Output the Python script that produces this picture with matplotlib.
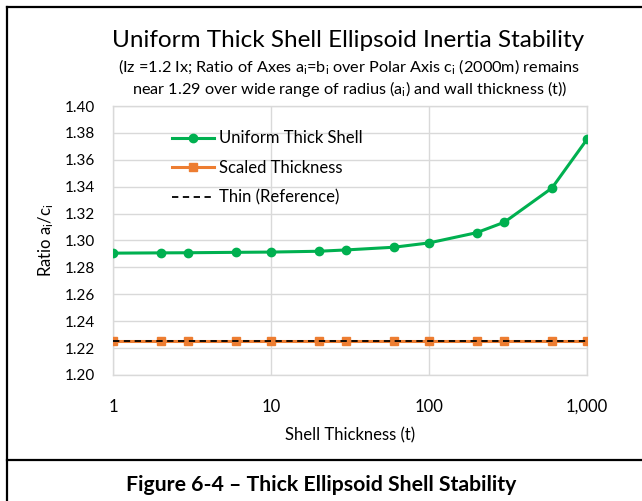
import matplotlib
matplotlib.use("Agg")
import matplotlib.pyplot as plt
from matplotlib.lines import Line2D
from matplotlib.ticker import FixedLocator, FuncFormatter, NullLocator

plt.rcParams['font.family'] = ['Lato', 'DejaVu Sans']
plt.rcParams['mathtext.default'] = 'regular'

# Data
thickness = [1, 2, 3, 6, 10, 20, 30, 60, 100, 200, 300, 600, 1000]
uniform_thick = [1.2906, 1.2908, 1.2909, 1.2912, 1.2914, 1.2920, 1.2930,
                 1.2950, 1.2982, 1.3058, 1.3136, 1.3390, 1.3752]
scaled_thickness = [1.225] * len(thickness)
thin_reference = [1.225] * len(thickness)
series_names = ["Uniform Thick Shell", "Scaled Thickness", "Thin (Reference)"]
y_ticks = [1.20, 1.22, 1.24, 1.26, 1.28, 1.30, 1.32, 1.34, 1.36, 1.38, 1.40]
x_ticks = [1, 10, 100, 1000]

W, H = 642, 501
fig = plt.figure(figsize=(W / 100, H / 100), dpi=100)

def fx(px):
    return px / W

def fy(py):
    return 1 - py / H

ax = fig.add_axes([fx(113), fy(375), fx(587) - fx(113), fy(106) - fy(375)])

green = '#00B050'
orange = '#ED7D31'
grid_c = '#D9D9D9'

ax.plot(thickness, uniform_thick, color=green, lw=2.2, marker='o', ms=6,
        label=series_names[0], zorder=4)
ax.plot(thickness, scaled_thickness, color=orange, lw=2.2, marker='s', ms=6,
        label=series_names[1], zorder=3)
ax.plot(thickness, thin_reference, color='black', lw=1.3, ls=(0, (3.5, 2.5)),
        label=series_names[2], zorder=5)

ax.set_xscale('log')
ax.set_xlim(1, 1000)
ax.set_ylim(1.20, 1.40)
ax.xaxis.set_major_locator(FixedLocator(x_ticks))
ax.xaxis.set_minor_locator(NullLocator())
ax.xaxis.set_major_formatter(FuncFormatter(lambda v, p: f"{int(round(v)):,}"))
ax.yaxis.set_major_locator(FixedLocator(y_ticks))
ax.yaxis.set_major_formatter(FuncFormatter(lambda v, p: f"{v:.2f}"))

ax.grid(True, color=grid_c, lw=1.0)
ax.set_axisbelow(True)
for s in ax.spines.values():
    s.set_color(grid_c)
    s.set_linewidth(1.0)
ax.tick_params(axis='both', length=0, colors='#000000')
ax.tick_params(axis='y', labelsize=11, pad=13)
ax.tick_params(axis='x', labelsize=12, pad=17)

ax.set_xlabel("Shell Thickness (t)", fontsize=12, labelpad=9)
ax.set_ylabel("Ratio $a_i/c_i$", fontsize=12, labelpad=6)

leg = ax.legend(loc='upper left', bbox_to_anchor=(0.093, 0.965), frameon=False,
                fontsize=12, handlelength=2.5, handletextpad=0.3,
                labelspacing=0.82)

fig.text(fx(348), fy(41), "Uniform Thick Shell Ellipsoid Inertia Stability",
         ha='center', va='center', fontsize=17.5)
fig.text(fx(349), fy(67),
         "(Iz =1.2 Ix; Ratio of Axes $a_i$=$b_i$ over Polar Axis $c_i$ (2000m) remains",
         ha='center', va='center', fontsize=11.7)
fig.text(fx(350), fy(89),
         "near 1.29 over wide range of radius ($a_i$) and wall thickness (t))",
         ha='center', va='center', fontsize=11.7)

fig.text(fx(321), fy(485), "Figure 6-4 \u2013 Thick Ellipsoid Shell Stability",
         ha='center', va='center', fontsize=15.3, fontweight='bold')

# borders
lw_b = 1.6
fig.add_artist(Line2D([fx(7), fx(7)], [fy(7), 0], color='black', lw=lw_b))
fig.add_artist(Line2D([fx(7), 1], [fy(7), fy(7)], color='black', lw=lw_b))
fig.add_artist(Line2D([fx(7), 1], [fy(460), fy(460)], color='black', lw=lw_b))

fig.savefig("out.png", dpi=100)
